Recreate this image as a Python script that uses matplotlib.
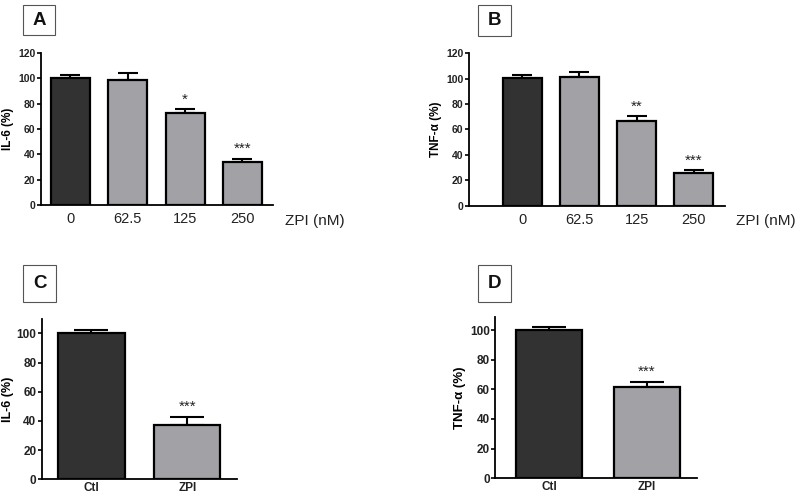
import matplotlib
matplotlib.use("Agg")
import matplotlib.pyplot as plt
from matplotlib.patches import Rectangle

plt.rcParams["font.family"] = ["Liberation Sans", "DejaVu Sans"]

# ── Data ──────────────────────────────────────────────────────────────────────
DOSE_LABELS = ["0", "62.5", "125", "250"]
IL6_DOSE = [100, 99, 72.5, 34]
IL6_DOSE_ERR = [3, 5.5, 3, 2.5]
IL6_DOSE_SIG = ["", "", "*", "***"]

TNF_DOSE = [100.5, 101.5, 66.5, 25.5]
TNF_DOSE_ERR = [2.5, 3.5, 4, 2.5]
TNF_DOSE_SIG = ["", "", "**", "***"]

GROUP_LABELS = ["Ctl", "ZPI"]
IL6_GROUP = [100, 37.5]
IL6_GROUP_ERR = [2.5, 5.5]
IL6_GROUP_SIG = ["", "***"]

TNF_GROUP = [100, 61.5]
TNF_GROUP_ERR = [2, 3.5]
TNF_GROUP_SIG = ["", "***"]

DARK = "#323232"
GREY = "#a1a1a6"


def bars(ax, labels, vals, errs, sig, width, capsize, xlim, ylim, ticks,
         xfs, xbold, yfs):
    xs = list(range(len(vals)))
    cols = [DARK] + [GREY] * (len(vals) - 1)
    ax.bar(xs, vals, width=width, color=cols, edgecolor="black",
           linewidth=1.6, zorder=2)
    ax.errorbar(xs, vals, yerr=[[0] * len(vals), errs], fmt="none",
                ecolor="black", elinewidth=1.5, capsize=capsize,
                capthick=1.5, zorder=1)
    for x, v, e, s in zip(xs, vals, errs, sig):
        if s:
            ax.annotate(s, (x, v + e), xytext=(0, 2), textcoords="offset points",
                        ha="center", va="bottom", fontsize=11, color="#222")
    ax.set_xlim(*xlim)
    ax.set_ylim(*ylim)
    ax.set_yticks(ticks)
    ax.set_xticks(xs)
    ax.set_xticklabels(labels, fontsize=xfs,
                       fontweight="bold" if xbold else "normal", color="#222")
    for t in ax.get_yticklabels():
        t.set_fontsize(yfs)
        t.set_fontweight("bold")
        t.set_color("#222")
    ax.tick_params(axis="x", length=0, pad=5 if not xbold else 2)
    ax.tick_params(axis="y", length=3, width=1.2, pad=1)
    for sp in ["top", "right"]:
        ax.spines[sp].set_visible(False)
    for sp in ["left", "bottom"]:
        ax.spines[sp].set_linewidth(1.3)


def panel_label(fig, x0, y0, w, h, letter):
    fig.patches.append(Rectangle((x0, y0), w, h, transform=fig.transFigure,
                                 facecolor="white", edgecolor="#555",
                                 linewidth=0.8))
    fig.text(x0 + w / 2, y0 + h / 2, letter, ha="center", va="center",
             fontsize=13.5, fontweight="bold", color="#111")


fig = plt.figure(figsize=(8, 4.96), dpi=100)

axA = fig.add_axes([0.051, 0.587, 0.290, 0.306])
bars(axA, DOSE_LABELS, IL6_DOSE, IL6_DOSE_ERR, IL6_DOSE_SIG, 0.68, 7.5,
     (-0.515, 3.53), (0, 120), range(0, 121, 20), 10.5, False, 7.5)
axA.set_ylabel("IL-6 (%)", fontsize=8.5, fontweight="bold", labelpad=3)
fig.text(0.356, 0.554, "ZPI (nM)", ha="left", va="center", fontsize=11,
         color="#222")

axB = fig.add_axes([0.586, 0.585, 0.320, 0.308])
bars(axB, DOSE_LABELS, TNF_DOSE, TNF_DOSE_ERR, TNF_DOSE_SIG, 0.68, 7.5,
     (-0.935, 3.54), (0, 120), range(0, 121, 20), 10.5, False, 7.5)
axB.set_ylabel("TNF-α (%)", fontsize=8.5, fontweight="bold", labelpad=3)
fig.text(0.995, 0.554, "ZPI (nM)", ha="right", va="center", fontsize=11,
         color="#222")

axC = fig.add_axes([0.0525, 0.034, 0.2435, 0.323])
bars(axC, GROUP_LABELS, IL6_GROUP, IL6_GROUP_ERR, IL6_GROUP_SIG, 0.69, 12,
     (-0.516, 1.516), (0, 110), range(0, 101, 20), 8.5, True, 8.5)
axC.set_ylabel("IL-6 (%)", fontsize=9, fontweight="bold", labelpad=2)

axD = fig.add_axes([0.619, 0.036, 0.252, 0.325])
bars(axD, GROUP_LABELS, TNF_GROUP, TNF_GROUP_ERR, TNF_GROUP_SIG, 0.67, 12,
     (-0.55, 1.51), (0, 109), range(0, 101, 20), 8.5, True, 8.5)
axD.set_ylabel("TNF-α (%)", fontsize=9.5, fontweight="bold", labelpad=3)

panel_label(fig, 0.029, 0.929, 0.040, 0.061, "A")
panel_label(fig, 0.5975, 0.927, 0.041, 0.063, "B")
panel_label(fig, 0.029, 0.391, 0.041, 0.075, "C")
panel_label(fig, 0.5975, 0.391, 0.041, 0.075, "D")

fig.savefig("out.png", dpi=100, facecolor="white")
